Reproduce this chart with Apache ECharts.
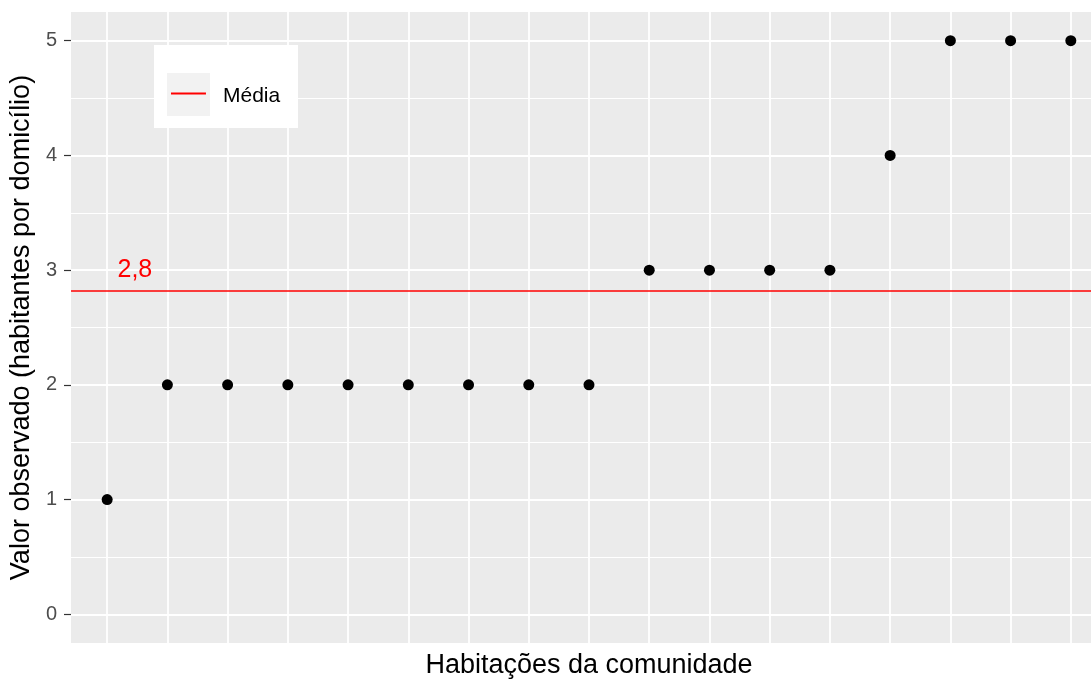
<!DOCTYPE html>
<html>
<head>
<meta charset="utf-8">
<script src="https://cdn.jsdelivr.net/npm/echarts@6/dist/echarts.min.js"></script>
<style>html,body{margin:0;padding:0;background:#fff}#c{width:1091px;height:684px}</style>
</head>
<body>
<div id="c"></div>
<script>
// Data
const houses = [1,2,3,4,5,6,7,8,9,10,11,12,13,14,15,16,17];
const observed = [1,2,2,2,2,2,2,2,2,3,3,3,3,4,5,5,5];
const yTicks = [0,1,2,3,4,5];
const yMinor = [0.5,1.5,2.5,3.5,4.5];
const meanVal = observed.reduce((a,b)=>a+b,0)/observed.length;
const meanText = meanVal.toFixed(1).replace('.', ',');
const meanLabelX = 1.46;
const meanLabelOffset = 0.18;

const FONT = '"Liberation Sans", Arial, sans-serif';
const chart = echarts.init(document.getElementById('c'), null, {renderer:'canvas'});

const gridLines = []
  .concat(yTicks.map(v => ({yAxis: v, lineStyle:{width:1.8}})))
  .concat(yMinor.map(v => ({yAxis: v, lineStyle:{width:1.2}})))
  .concat(houses.map(v => ({xAxis: v, lineStyle:{width:1.8}})));

chart.setOption({
  animation: false,
  backgroundColor: '#ffffff',
  textStyle: {fontFamily: FONT},
  grid: {left: 71, right: 0, top: 12, bottom: 41, show: true, backgroundColor: '#EBEBEB', borderWidth: 0, containLabel: false},
  xAxis: {
    type: 'value', min: 0.4, max: 17.335,
    axisLine: {show:false}, axisTick: {show:false}, axisLabel: {show:false}, splitLine: {show:false},
    name: 'Habitações da comunidade', nameLocation: 'middle', nameGap: 9,
    nameTextStyle: {fontSize: 27, color: '#000', fontFamily: FONT, verticalAlign: 'top', padding: [0,0,0,16]}
  },
  yAxis: {
    type: 'value', min: -0.25, max: 5.25,
    axisLine: {show:false},
    axisTick: {show:true, length: 7, customValues: yTicks, lineStyle:{color:'#333333', width:1.2}},
    axisLabel: {show:true, margin: 14, customValues: yTicks, fontSize: 20, color:'#4D4D4D', fontFamily: FONT,
      formatter: v => (Number.isInteger(v) ? String(v) : '')},
    splitLine: {show:false},
    name: 'Valor observado (habitantes por domicílio)', nameLocation: 'middle', nameGap: 36, nameRotate: 90,
    nameTextStyle: {fontSize: 27, color:'#000', fontFamily: FONT}
  },
  legend: {
    show: true, data: ['Média'], left: 171, top: 86, padding: 0, z: 4,
    icon: 'path://M0,0h35v2h-35zM0,8h35v0.01h-35z', itemWidth: 35, itemHeight: 8,
    textStyle: {fontSize: 21, color:'#000000', fontFamily: FONT, padding: [0,0,0,12]},
    selectedMode: false
  },
  graphic: [
    {type:'rect', z: 3, shape:{x:154, y:45, width:144, height:83}, style:{fill:'#ffffff'}},
    {type:'rect', z: 3, shape:{x:167, y:73, width:43, height:43}, style:{fill:'#F2F2F2'}}
  ],
  series: [
    {
      name: 'grid', type: 'line', data: [], z: 1, silent: true,
      markLine: {z: 1, silent:true, symbol:['none','none'], label:{show:false}, animation:false,
        lineStyle:{color:'#ffffff', type:'solid'}, data: gridLines}
    },
    {
      name: 'Média', type: 'line', data: [], z: 2, color: '#FF0000', silent: true,
      markLine: {z: 2, silent:true, symbol:['none','none'], label:{show:false}, animation:false,
        lineStyle:{color:'#FF0000', type:'solid', width:1.5}, data: [{yAxis: meanVal}]},
      markPoint: {z: 2, silent:true, symbolSize: 0, animation:false,
        label:{show:true, position:'inside', formatter: meanText, fontSize: 25, color:'#FF0000', fontFamily: FONT},
        data: [{coord: [meanLabelX, meanVal + meanLabelOffset]}]}
    },
    {
      name: 'obs', type: 'scatter', z: 3, symbol: 'circle', symbolSize: 11,
      itemStyle: {color:'#000000', opacity: 1},
      data: houses.map((h,i) => [h, observed[i]])
    }
  ]
});
</script>
</body>
</html>
